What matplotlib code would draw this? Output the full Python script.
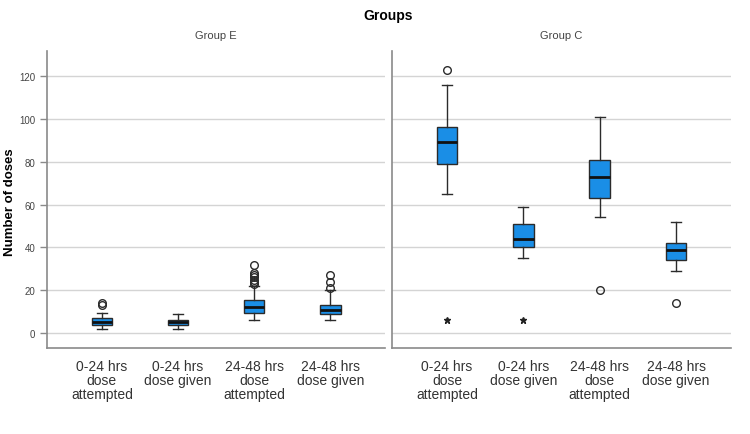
import matplotlib.pyplot as plt
import numpy as np

plt.rcParams["font.family"] = ["Liberation Sans", "DejaVu Sans"]

# ===============================
categories = ["0-24 hrs\ndose\nattempted", "0-24 hrs\ndose given",
              "24-48 hrs\ndose\nattempted", "24-48 hrs\ndose given"]
groups = ["Group E", "Group C"]

# per group: whislo, q1, median, q3, whishi
stats_e = [
    [2, 4, 5.3, 7, 9.3],
    [2, 4, 5, 6, 9],
    [6, 9.6, 12, 15.5, 22],
    [6, 9, 11, 13.3, 20],
]
stats_c = [
    [65, 79, 89, 96, 116],
    [35, 40, 44, 51, 59],
    [54, 63, 73, 81, 101],
    [29, 34, 39, 42, 52],
]
outliers_e = [[13, 14], [], [23, 24, 25, 26, 27, 28, 32], [21, 24, 27]]
outliers_c = [[123], [], [20], [14]]
extremes_e = [[], [], [], []]
extremes_c = [[6], [6], [], []]

# ===============================
fig = plt.figure(figsize=(7.5, 4.35), dpi=100)
ax_e = fig.add_axes([0.0627, 0.1977, 0.4507, 0.6828])
ax_c = fig.add_axes([0.5227, 0.1977, 0.452, 0.6828])

box_color = "#1a8ee6"
edge = "#2b2b2b"

for ax, name, stats, outs, extr in [(ax_e, groups[0], stats_e, outliers_e, extremes_e),
                                    (ax_c, groups[1], stats_c, outliers_c, extremes_c)]:
    bstats = []
    for s, o in zip(stats, outs):
        bstats.append(dict(whislo=s[0], q1=s[1], med=s[2], q3=s[3], whishi=s[4], fliers=o))
    pos = np.arange(len(categories))
    ax.bxp(bstats, positions=pos, widths=0.27, patch_artist=True, showfliers=True,
           boxprops=dict(facecolor=box_color, edgecolor=edge, linewidth=1.0),
           medianprops=dict(color="#111111", linewidth=2.0),
           whiskerprops=dict(color=edge, linewidth=1.0),
           capprops=dict(color=edge, linewidth=1.0),
           capwidths=0.13,
           flierprops=dict(marker="o", markerfacecolor="none", markeredgecolor=edge,
                           markersize=5.5, markeredgewidth=1.0),
           zorder=3)
    for p, ex in zip(pos, extr):
        if ex:
            ax.plot([p] * len(ex), ex, linestyle="none", marker="*", color="#222222",
                    markersize=5, zorder=3)

    ax.set_xlim(-0.72, 3.72)
    ax.set_ylim(-6.9, 131.7)
    ax.set_yticks(np.arange(0, 121, 20))
    ax.grid(axis="y", color="#d4d4d4", linewidth=1.0, zorder=0)
    ax.set_axisbelow(True)
    ax.set_xticks(pos)
    ax.set_xticklabels(categories, fontsize=10, color="#333333", linespacing=0.98)
    ax.tick_params(axis="x", length=0, pad=8)
    for sp in ["top", "right"]:
        ax.spines[sp].set_visible(False)
    for sp in ["left", "bottom"]:
        ax.spines[sp].set_color("#8a8a8a")
        ax.spines[sp].set_linewidth(1.2)
    ax.set_title(name, fontsize=8, color="#444444", pad=9)

ax_e.tick_params(axis="y", labelsize=7, colors="#444444", length=5, width=1.0)
ax_e.tick_params(axis="y", color="#8a8a8a")
ax_c.tick_params(axis="y", left=False, labelleft=False)

fig.text(0.014, 0.535, "Number of doses", rotation=90, ha="center", va="center",
         fontsize=9.5, fontweight="bold")
fig.text(0.518, 0.963, "Groups", ha="center", va="center", fontsize=10, fontweight="bold")

plt.savefig("out.png", dpi=100)
